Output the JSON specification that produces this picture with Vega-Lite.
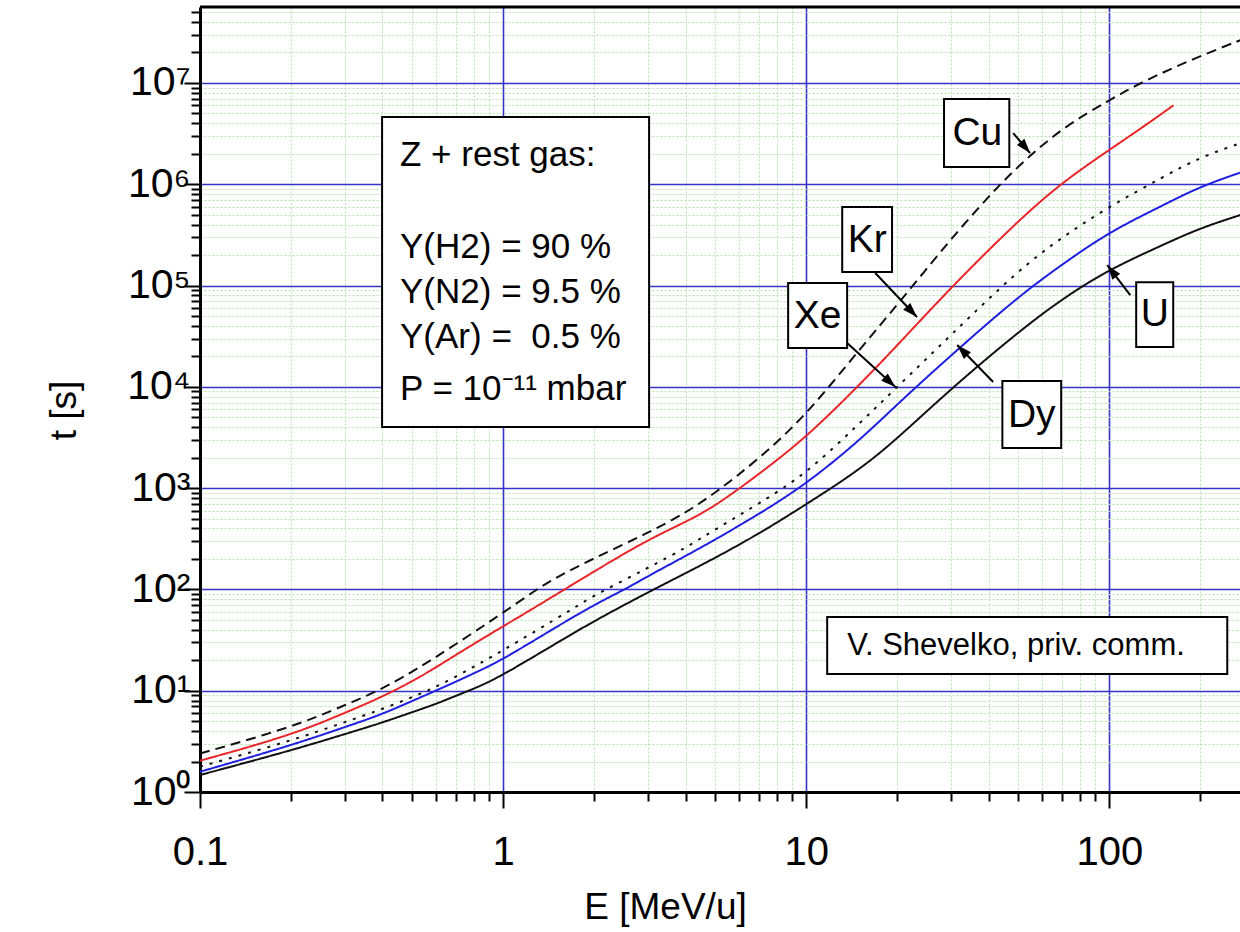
{
  "$schema": "https://vega.github.io/schema/vega-lite/v6.json",
  "width": 1040,
  "height": 785,
  "autosize": {"type": "none"},
  "padding": {"left": 200, "top": 7, "right": 0, "bottom": 140},
  "background": "white",
  "config": {"view": {"stroke": null}, "font": "Liberation Sans"},
  "datasets": {
    "curves": [
      {"ion": "Cu", "E": 0.1, "t": 2.399}, {"ion": "Cu", "E": 0.2, "t": 4.325}, {"ion": "Cu", "E": 0.3, "t": 7.178}, {"ion": "Cu", "E": 0.393, "t": 10.16}, {"ion": "Cu", "E": 0.5, "t": 15.31}, {"ion": "Cu", "E": 0.589, "t": 20.7}, {"ion": "Cu", "E": 0.7, "t": 28.97}, {"ion": "Cu", "E": 0.84, "t": 41.5}, {"ion": "Cu", "E": 1, "t": 58.88}, {"ion": "Cu", "E": 1.29, "t": 100}, {"ion": "Cu", "E": 1.5, "t": 131.8}, {"ion": "Cu", "E": 2, "t": 204.2}, {"ion": "Cu", "E": 3, "t": 358.9}, {"ion": "Cu", "E": 4, "t": 568.9}, {"ion": "Cu", "E": 5, "t": 891.3}, {"ion": "Cu", "E": 7, "t": 1950}, {"ion": "Cu", "E": 10, "t": 5248}, {"ion": "Cu", "E": 15, "t": 23442}, {"ion": "Cu", "E": 20, "t": 64565}, {"ion": "Cu", "E": 30, "t": 288403}, {"ion": "Cu", "E": 40, "t": 758578}, {"ion": "Cu", "E": 50, "t": 1513561}, {"ion": "Cu", "E": 70, "t": 3630781}, {"ion": "Cu", "E": 100, "t": 6760830}, {"ion": "Cu", "E": 130, "t": 10471285}, {"ion": "Cu", "E": 190, "t": 17378008}, {"ion": "Cu", "E": 280, "t": 27542287},
      {"ion": "Kr", "E": 0.1, "t": 2.037}, {"ion": "Kr", "E": 0.2, "t": 3.631}, {"ion": "Kr", "E": 0.3, "t": 6.026}, {"ion": "Kr", "E": 0.393, "t": 8.511}, {"ion": "Kr", "E": 0.5, "t": 12.3}, {"ion": "Kr", "E": 0.589, "t": 16.41}, {"ion": "Kr", "E": 0.7, "t": 22.65}, {"ion": "Kr", "E": 0.84, "t": 31.62}, {"ion": "Kr", "E": 1, "t": 43.15}, {"ion": "Kr", "E": 1.5, "t": 89.13}, {"ion": "Kr", "E": 2, "t": 151.4}, {"ion": "Kr", "E": 3, "t": 309}, {"ion": "Kr", "E": 4, "t": 462.4}, {"ion": "Kr", "E": 5, "t": 660.7}, {"ion": "Kr", "E": 7, "t": 1380}, {"ion": "Kr", "E": 10, "t": 3162}, {"ion": "Kr", "E": 15, "t": 10471}, {"ion": "Kr", "E": 20, "t": 25704}, {"ion": "Kr", "E": 30, "t": 95499}, {"ion": "Kr", "E": 50, "t": 436516}, {"ion": "Kr", "E": 70, "t": 1047129}, {"ion": "Kr", "E": 100, "t": 2187762}, {"ion": "Kr", "E": 130, "t": 3715352}, {"ion": "Kr", "E": 163, "t": 6025596},
      {"ion": "Xe", "E": 0.1, "t": 1.778}, {"ion": "Xe", "E": 0.2, "t": 3.199}, {"ion": "Xe", "E": 0.3, "t": 4.898}, {"ion": "Xe", "E": 0.393, "t": 6.457}, {"ion": "Xe", "E": 0.5, "t": 8.61}, {"ion": "Xe", "E": 0.589, "t": 10.59}, {"ion": "Xe", "E": 0.7, "t": 13.8}, {"ion": "Xe", "E": 0.84, "t": 18.62}, {"ion": "Xe", "E": 1, "t": 25.12}, {"ion": "Xe", "E": 1.5, "t": 51.29}, {"ion": "Xe", "E": 2, "t": 88.1}, {"ion": "Xe", "E": 3, "t": 162.2}, {"ion": "Xe", "E": 4, "t": 257}, {"ion": "Xe", "E": 5, "t": 389}, {"ion": "Xe", "E": 7, "t": 707.9}, {"ion": "Xe", "E": 10, "t": 1380}, {"ion": "Xe", "E": 15, "t": 4365}, {"ion": "Xe", "E": 20, "t": 10000}, {"ion": "Xe", "E": 30, "t": 32359}, {"ion": "Xe", "E": 50, "t": 141254}, {"ion": "Xe", "E": 70, "t": 301995}, {"ion": "Xe", "E": 100, "t": 602560}, {"ion": "Xe", "E": 150, "t": 1174898}, {"ion": "Xe", "E": 200, "t": 1862087}, {"ion": "Xe", "E": 280, "t": 2630268},
      {"ion": "Dy", "E": 0.1, "t": 1.585}, {"ion": "Dy", "E": 0.2, "t": 2.884}, {"ion": "Dy", "E": 0.3, "t": 4.365}, {"ion": "Dy", "E": 0.393, "t": 5.754}, {"ion": "Dy", "E": 0.5, "t": 7.889}, {"ion": "Dy", "E": 0.589, "t": 9.772}, {"ion": "Dy", "E": 0.7, "t": 12.3}, {"ion": "Dy", "E": 0.84, "t": 15.85}, {"ion": "Dy", "E": 1, "t": 20.42}, {"ion": "Dy", "E": 1.5, "t": 42.66}, {"ion": "Dy", "E": 2, "t": 70.79}, {"ion": "Dy", "E": 2.56, "t": 102.3}, {"ion": "Dy", "E": 3, "t": 134.9}, {"ion": "Dy", "E": 4, "t": 213.8}, {"ion": "Dy", "E": 5, "t": 309}, {"ion": "Dy", "E": 7, "t": 555.9}, {"ion": "Dy", "E": 10, "t": 1096}, {"ion": "Dy", "E": 15, "t": 2951}, {"ion": "Dy", "E": 20, "t": 6761}, {"ion": "Dy", "E": 30, "t": 20417}, {"ion": "Dy", "E": 50, "t": 77625}, {"ion": "Dy", "E": 70, "t": 162181}, {"ion": "Dy", "E": 100, "t": 338844}, {"ion": "Dy", "E": 150, "t": 616595}, {"ion": "Dy", "E": 200, "t": 954993}, {"ion": "Dy", "E": 280, "t": 1348963},
      {"ion": "U", "E": 0.1, "t": 1.472}, {"ion": "U", "E": 0.2, "t": 2.57}, {"ion": "U", "E": 0.3, "t": 3.724}, {"ion": "U", "E": 0.393, "t": 4.764}, {"ion": "U", "E": 0.5, "t": 6.124}, {"ion": "U", "E": 0.589, "t": 7.244}, {"ion": "U", "E": 0.7, "t": 8.913}, {"ion": "U", "E": 0.84, "t": 11.09}, {"ion": "U", "E": 1, "t": 14.29}, {"ion": "U", "E": 1.5, "t": 29.51}, {"ion": "U", "E": 2, "t": 48.98}, {"ion": "U", "E": 3, "t": 93.33}, {"ion": "U", "E": 4, "t": 144.5}, {"ion": "U", "E": 5, "t": 204.2}, {"ion": "U", "E": 7, "t": 354.8}, {"ion": "U", "E": 10, "t": 691.8}, {"ion": "U", "E": 15, "t": 1514}, {"ion": "U", "E": 20, "t": 3090}, {"ion": "U", "E": 30, "t": 9550}, {"ion": "U", "E": 50, "t": 34674}, {"ion": "U", "E": 70, "t": 74131}, {"ion": "U", "E": 100, "t": 144544}, {"ion": "U", "E": 150, "t": 251189}, {"ion": "U", "E": 200, "t": 371535}, {"ion": "U", "E": 280, "t": 512861}
    ],
    "boxes": [
      {"name": "info", "E": 0.3988, "E2": 3.032, "t": 4610000, "t2": 4010},
      {"name": "Cu", "E": 28.5, "E2": 46.8, "t": 6930000, "t2": 1480000},
      {"name": "Kr", "E": 13.15, "E2": 19.2, "t": 596000, "t2": 136000},
      {"name": "Xe", "E": 8.72, "E2": 13.65, "t": 106000, "t2": 24200},
      {"name": "U", "E": 122.7, "E2": 162.6, "t": 108000, "t2": 24700},
      {"name": "Dy", "E": 44.4, "E2": 69.4, "t": 11400, "t2": 2489},
      {"name": "credit", "E": 11.73, "E2": 245.1, "t": 53.4, "t2": 14.6}
    ],
    "infotext": [
      {"E": 0.457, "t": 1513000, "text": "Z + rest gas:"},
      {"E": 0.457, "t": 186800, "text": "Y(H2) = 90 %"},
      {"E": 0.457, "t": 67200, "text": "Y(N2) = 9.5 %"},
      {"E": 0.457, "t": 24150, "text": "Y(Ar) = \u00a00.5 %"},
      {"E": 0.457, "t": 7410, "text": "P = 10⁻¹¹ mbar"}
    ],
    "ionlabels": [
      {"E": 36.7, "t": 3200000, "text": "Cu"},
      {"E": 15.9, "t": 284000, "text": "Kr"},
      {"E": 10.9, "t": 50600, "text": "Xe"},
      {"E": 141.3, "t": 51800, "text": "U"},
      {"E": 55.5, "t": 5330, "text": "Dy"}
    ],
    "credit": [
      {"E": 13.65, "t": 22.5, "text": "V. Shevelko, priv. comm."}
    ],
    "arrows": [
      {"ion": "Cu", "E": 54.8, "t": 2030000, "E2": 48.2, "t2": 3200000},
      {"ion": "Kr", "E": 23.2, "t": 48900, "E2": 16.9, "t2": 133000},
      {"ion": "Xe", "E": 19.7, "t": 9950, "E2": 13.65, "t2": 27100},
      {"ion": "U", "E": 98.5, "t": 159000, "E2": 117.3, "t2": 80600},
      {"ion": "Dy", "E": 31.5, "t": 25900, "E2": 41.4, "t2": 11150}
    ],
    "frame": [
      {"E": 0.1, "t": 56234132}, {"E": 270, "t": 56234132}
    ]
  },
  "encoding": {
    "x": {
      "field": "E", "type": "quantitative",
      "scale": {"type": "log", "domain": [0.1, 270], "nice": false},
      "axis": {
        "values": [0.1, 0.2, 0.3, 0.4, 0.5, 0.6, 0.7, 0.8, 0.9, 1, 2, 3, 4, 5, 6, 7, 8, 9, 10, 20, 30, 40, 50, 60, 70, 80, 90, 100, 200],
        "format": "~g",
        "labelExpr": "abs(log(datum.value)/LN10 - round(log(datum.value)/LN10)) < 1e-6 ? datum.label : ''",
        "title": "E [MeV/u]",
        "titleFont": "Liberation Sans", "titleFontSize": 37, "titleFontWeight": "normal", "titleColor": "black",
        "titleX": 465, "titleY": 126, "titleBaseline": "alphabetic", "titleAlign": "center",
        "labelFont": "Liberation Sans", "labelFontSize": 40, "labelColor": "black", "labelPadding": 24,
        "labelOverlap": false, "labelFlush": false, "labelBound": false,
        "domainColor": "black", "domainWidth": 3,
        "tickColor": "black", "tickWidth": 2,
        "tickSize": {"condition": {"test": "abs(log(datum.value)/LN10 - round(log(datum.value)/LN10)) < 1e-6", "value": 16}, "value": 9},
        "grid": true,
        "gridColor": {"condition": {"test": "abs(log(datum.value)/LN10 - round(log(datum.value)/LN10)) < 1e-6", "value": "#3434c8"}, "value": "#b6e3ae"},
        "gridDash": {"condition": {"test": "abs(log(datum.value)/LN10 - round(log(datum.value)/LN10)) < 1e-6", "value": [1, 0]}, "value": [2, 2]},
        "gridWidth": {"condition": {"test": "abs(log(datum.value)/LN10 - round(log(datum.value)/LN10)) < 1e-6", "value": 1.6}, "value": 1},
        "gridOpacity": 1
      }
    },
    "y": {
      "field": "t", "type": "quantitative",
      "scale": {"type": "log", "domain": [1, 56234132], "nice": false},
      "axis": {
        "values": [1, 2, 3, 4, 5, 6, 7, 8, 9, 10, 20, 30, 40, 50, 60, 70, 80, 90, 100, 200, 300, 400, 500, 600, 700, 800, 900, 1000, 2000, 3000, 4000, 5000, 6000, 7000, 8000, 9000, 10000, 20000, 30000, 40000, 50000, 60000, 70000, 80000, 90000, 100000, 200000, 300000, 400000, 500000, 600000, 700000, 800000, 900000, 1000000, 2000000, 3000000, 4000000, 5000000, 6000000, 7000000, 8000000, 9000000, 10000000, 20000000, 30000000, 40000000, 50000000],
        "labelExpr": "abs(log(datum.value)/LN10 - round(log(datum.value)/LN10)) < 1e-6 ? '10' + ['⁰','¹','²','³','⁴','⁵','⁶','⁷'][round(log(datum.value)/LN10)] : ''",
        "title": "t [s]",
        "titleFont": "Liberation Sans", "titleFontSize": 37, "titleFontWeight": "normal", "titleColor": "black",
        "titleX": -125, "titleY": 403, "titleAngle": -90, "titleBaseline": "alphabetic", "titleAlign": "center",
        "labelFont": "Liberation Sans", "labelFontSize": 41, "labelColor": "black", "labelPadding": -6, "labelBaseline": "middle",
        "labelOverlap": false, "labelFlush": false, "labelBound": false,
        "domainColor": "black", "domainWidth": 3,
        "tickColor": "black", "tickWidth": 2,
        "tickSize": {"condition": {"test": "abs(log(datum.value)/LN10 - round(log(datum.value)/LN10)) < 1e-6", "value": 16}, "value": 9},
        "grid": true,
        "gridColor": {"condition": {"test": "abs(log(datum.value)/LN10 - round(log(datum.value)/LN10)) < 1e-6", "value": "#3434c8"}, "value": "#b6e3ae"},
        "gridDash": {"condition": {"test": "abs(log(datum.value)/LN10 - round(log(datum.value)/LN10)) < 1e-6", "value": [1, 0]}, "value": [2, 2]},
        "gridWidth": {"condition": {"test": "abs(log(datum.value)/LN10 - round(log(datum.value)/LN10)) < 1e-6", "value": 1.6}, "value": 1},
        "gridOpacity": 1
      }
    }
  },
  "layer": [
    {
      "data": {"name": "curves"},
      "mark": {"type": "line", "strokeWidth": 2, "clip": true, "interpolate": "basis"},
      "encoding": {
        "detail": {"field": "ion"},
        "color": {"field": "ion", "type": "nominal", "scale": {"domain": ["Cu", "Kr", "Xe", "Dy", "U"], "range": ["#111111", "#e8262a", "#111111", "#1f1fe0", "#111111"]}, "legend": null},
        "strokeDash": {"field": "ion", "type": "nominal", "scale": {"domain": ["Cu", "Kr", "Xe", "Dy", "U"], "range": [[10, 6], [1, 0], [3, 7], [1, 0], [1, 0]]}, "legend": null}
      }
    },
    {
      "data": {"name": "boxes"},
      "mark": {"type": "rect", "fill": "white", "stroke": "black", "strokeWidth": 2},
      "encoding": {"x2": {"field": "E2"}, "y2": {"field": "t2"}}
    },
    {
      "data": {"name": "arrows"},
      "mark": {"type": "rule", "stroke": "black", "strokeWidth": 2},
      "encoding": {"x2": {"field": "E2"}, "y2": {"field": "t2"}}
    },
    {
      "data": {"name": "arrows"},
      "transform": [{"filter": "datum.ion == 'Cu'"}],
      "mark": {"type": "point", "shape": "M0,0L0.8,2.4L-0.8,2.4Z", "size": 150, "filled": true, "color": "black", "opacity": 1, "angle": 140}
    },
    {
      "data": {"name": "arrows"},
      "transform": [{"filter": "datum.ion == 'Kr'"}],
      "mark": {"type": "point", "shape": "M0,0L0.8,2.4L-0.8,2.4Z", "size": 150, "filled": true, "color": "black", "opacity": 1, "angle": 136}
    },
    {
      "data": {"name": "arrows"},
      "transform": [{"filter": "datum.ion == 'Xe'"}],
      "mark": {"type": "point", "shape": "M0,0L0.8,2.4L-0.8,2.4Z", "size": 150, "filled": true, "color": "black", "opacity": 1, "angle": 132}
    },
    {
      "data": {"name": "arrows"},
      "transform": [{"filter": "datum.ion == 'U'"}],
      "mark": {"type": "point", "shape": "M0,0L0.8,2.4L-0.8,2.4Z", "size": 150, "filled": true, "color": "black", "opacity": 1, "angle": 322}
    },
    {
      "data": {"name": "arrows"},
      "transform": [{"filter": "datum.ion == 'Dy'"}],
      "mark": {"type": "point", "shape": "M0,0L0.8,2.4L-0.8,2.4Z", "size": 150, "filled": true, "color": "black", "opacity": 1, "angle": 316}
    },
    {
      "data": {"name": "infotext"},
      "mark": {"type": "text", "font": "Liberation Sans", "fontSize": 35, "align": "left", "baseline": "alphabetic", "color": "black"},
      "encoding": {"text": {"field": "text"}}
    },
    {
      "data": {"name": "ionlabels"},
      "mark": {"type": "text", "font": "Liberation Sans", "fontSize": 39, "align": "center", "baseline": "middle", "color": "black"},
      "encoding": {"text": {"field": "text"}}
    },
    {
      "data": {"name": "credit"},
      "mark": {"type": "text", "font": "Liberation Sans", "fontSize": 31, "align": "left", "baseline": "alphabetic", "color": "black"},
      "encoding": {"text": {"field": "text"}}
    },
    {
      "data": {"name": "frame"},
      "mark": {"type": "line", "stroke": "black", "strokeWidth": 3}
    }
  ]
}
